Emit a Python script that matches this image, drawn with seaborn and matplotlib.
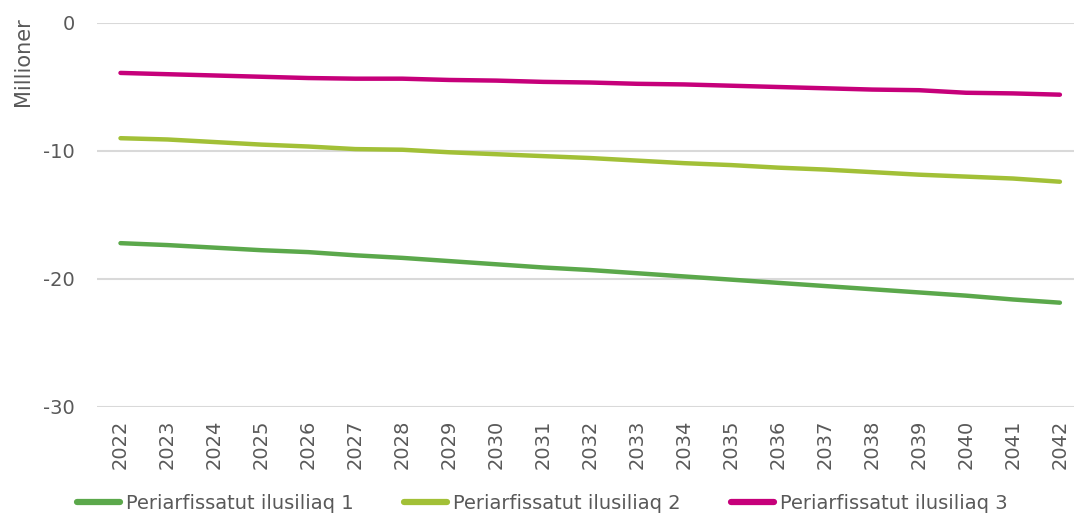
import matplotlib
matplotlib.use("Agg")
import matplotlib.pyplot as plt
import pandas as pd
import seaborn as sns

years = list(range(2022, 2043))
ilusiliaq_1 = [-17.2, -17.35, -17.55, -17.75, -17.9, -18.15, -18.35, -18.6, -18.85, -19.1, -19.3,
               -19.55, -19.8, -20.05, -20.3, -20.55, -20.8, -21.05, -21.3, -21.6, -21.85]
ilusiliaq_2 = [-9.0, -9.1, -9.3, -9.5, -9.65, -9.85, -9.9, -10.1, -10.25, -10.4, -10.55,
               -10.75, -10.95, -11.1, -11.3, -11.45, -11.65, -11.85, -12.0, -12.15, -12.4]
ilusiliaq_3 = [-3.9, -4.0, -4.1, -4.2, -4.3, -4.35, -4.35, -4.45, -4.5, -4.6, -4.65,
               -4.75, -4.8, -4.9, -5.0, -5.1, -5.2, -5.25, -5.45, -5.5, -5.6]
series_names = ["Periarfissatut ilusiliaq 1", "Periarfissatut ilusiliaq 2", "Periarfissatut ilusiliaq 3"]
colors = ["#5BA84B", "#A2C037", "#C6007A"]

df = pd.DataFrame({"year": years * 3,
                   "x": list(range(len(years))) * 3,
                   "value": ilusiliaq_1 + ilusiliaq_2 + ilusiliaq_3,
                   "serie": [n for n in series_names for _ in years]})

sns.set_style("white")
plt.rcParams["font.family"] = ["DejaVu Sans"]
plt.rcParams["axes.unicode_minus"] = False
text_col = "#595959"
fs = 14

fig = plt.figure(figsize=(10.74, 5.14), dpi=100)
ax = fig.add_axes([97 / 1074, 1 - 407 / 514, 1 - 97 / 1074, 384 / 514])

sns.lineplot(data=df, x="x", y="value", hue="serie", palette=colors, linewidth=3.2,
             ax=ax, legend=False, solid_capstyle="round")

ax.set_xlim(-0.5, 20.3)
ax.set_ylim(-30, 0)
ax.set_yticks([0, -10, -20, -30])
ax.set_xticks(range(len(years)))
ax.set_xticklabels([str(y) for y in years], rotation=90, fontsize=fs, color=text_col)
ax.tick_params(axis="y", labelsize=fs, labelcolor=text_col, length=0, pad=16)
ax.tick_params(axis="x", length=0, pad=9)
ax.yaxis.grid(True, color="#D9D9D9", linewidth=1.5)
ax.set_axisbelow(True)
for s in ax.spines.values():
    s.set_visible(False)
ax.set_xlabel("")
ax.set_ylabel("Millioner", fontsize=fs + 1, color=text_col)
ax.yaxis.set_label_coords(-0.066, 0.9)

handles = [plt.Line2D([], [], color=c, linewidth=4.5, solid_capstyle="round") for c in colors]
fig.legend(handles, series_names, loc="center", bbox_to_anchor=(0.505, 0.02), ncol=3,
           frameon=False, fontsize=fs, labelcolor=text_col, handlelength=2.2,
           handletextpad=0.3, columnspacing=2.6)

fig.savefig("out.png", dpi=100)
